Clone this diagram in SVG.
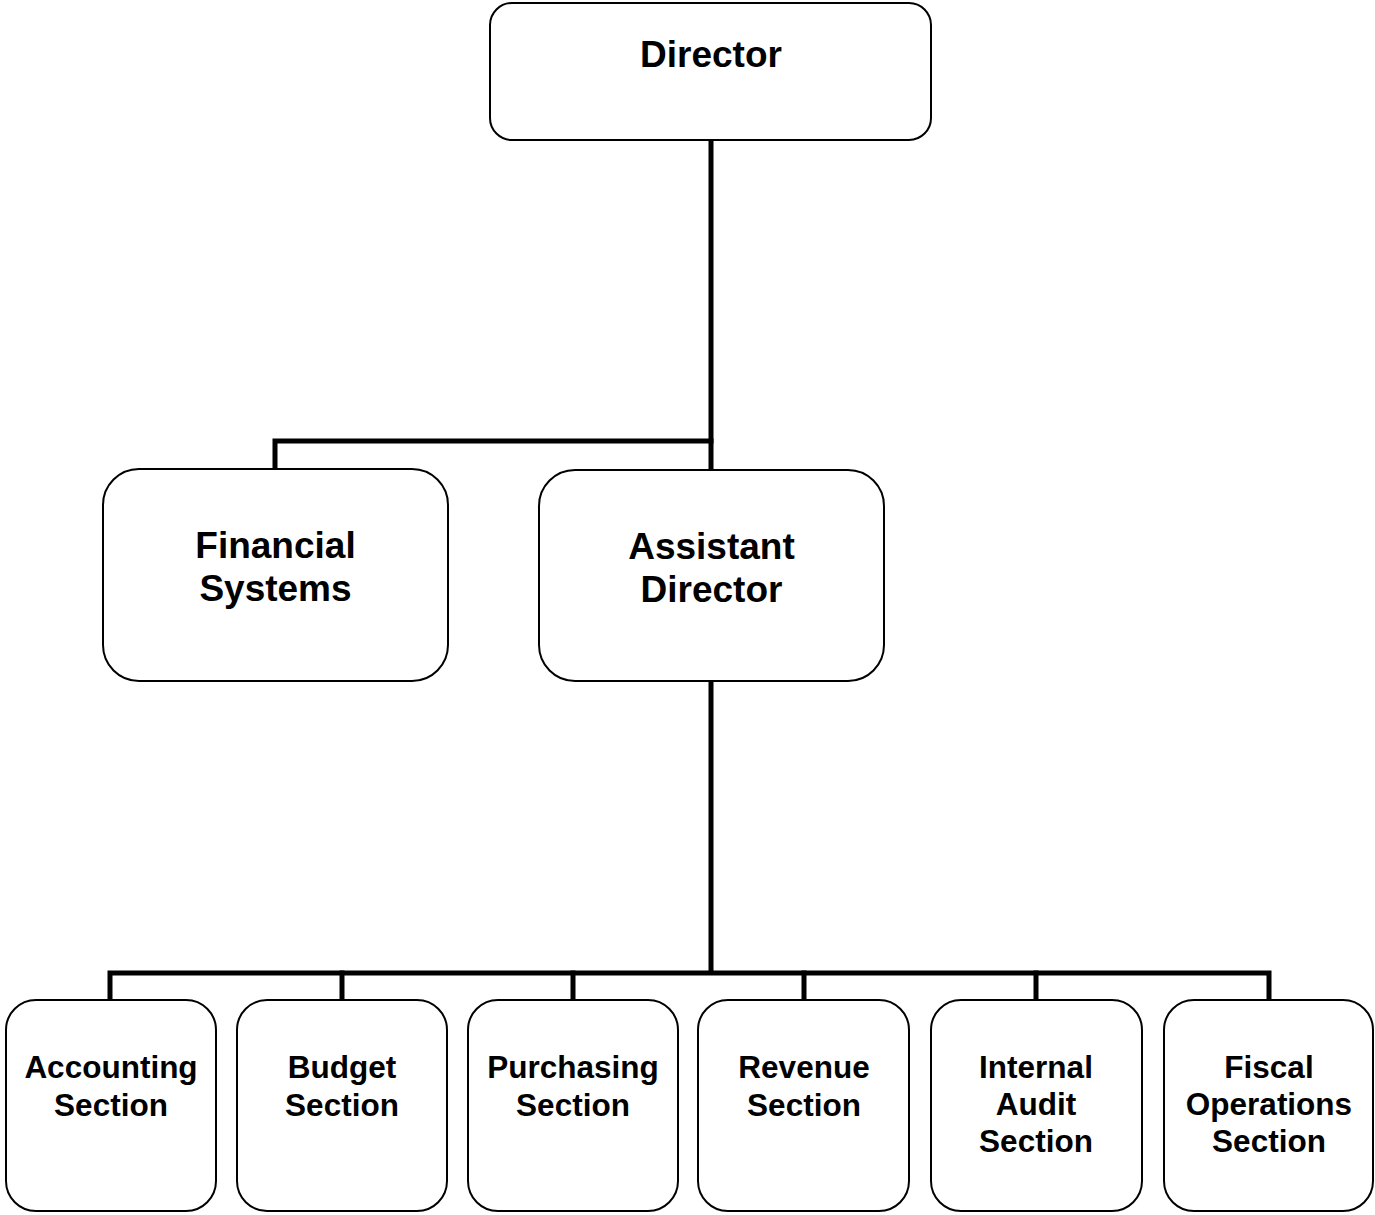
<svg xmlns="http://www.w3.org/2000/svg" width="1375" height="1215" viewBox="0 0 1375 1215">
<style>
.box{fill:#fff;stroke:#000;stroke-width:2}
.conn{fill:none;stroke:#000;stroke-width:5;stroke-linecap:square;stroke-linejoin:miter}
.t{font-family:"Liberation Sans",Arial,sans-serif;font-weight:bold;text-anchor:middle;fill:#000}
.big{font-size:37px}
.small{font-size:31.5px}
</style>
<rect width="1375" height="1215" fill="#fff"/>
<g id="connectors">
<path class="conn" d="M711 141 V970"/>
<path class="conn" d="M275 468 V441 H711"/>
<path class="conn" d="M110 998 V973 H1269 V998"/>
<path class="conn" d="M342 973 V998 M573 973 V998 M804 973 V998 M1036 973 V998"/>
</g>
<g id="director">
<rect class="box" x="490" y="3" width="441" height="137" rx="22"/>
<text class="t big" x="711" y="67">Director</text>
</g>
<g id="financial-systems">
<rect class="box" x="103" y="469" width="345" height="212" rx="36"/>
<text class="t big" x="275.5" y="558">Financial</text>
<text class="t big" x="275.5" y="601">Systems</text>
</g>
<g id="assistant-director">
<rect class="box" x="539" y="470" width="345" height="211" rx="36"/>
<text class="t big" x="711.5" y="559">Assistant</text>
<text class="t big" x="711.5" y="602">Director</text>
</g>
<g id="accounting">
<rect class="box" x="6" y="1000" width="210" height="211" rx="30"/>
<text class="t small" x="111" y="1078">Accounting</text>
<text class="t small" x="111" y="1116">Section</text>
</g>
<g id="budget">
<rect class="box" x="237" y="1000" width="210" height="211" rx="30"/>
<text class="t small" x="342" y="1078">Budget</text>
<text class="t small" x="342" y="1116">Section</text>
</g>
<g id="purchasing">
<rect class="box" x="468" y="1000" width="210" height="211" rx="30"/>
<text class="t small" x="573" y="1078">Purchasing</text>
<text class="t small" x="573" y="1116">Section</text>
</g>
<g id="revenue">
<rect class="box" x="698" y="1000" width="211" height="211" rx="30"/>
<text class="t small" x="804" y="1078">Revenue</text>
<text class="t small" x="804" y="1116">Section</text>
</g>
<g id="internal-audit">
<rect class="box" x="931" y="1000" width="211" height="211" rx="30"/>
<text class="t small" x="1036" y="1078">Internal</text>
<text class="t small" x="1036" y="1115">Audit</text>
<text class="t small" x="1036" y="1152">Section</text>
</g>
<g id="fiscal-operations">
<rect class="box" x="1164" y="1000" width="209" height="211" rx="30"/>
<text class="t small" x="1269" y="1078">Fiscal</text>
<text class="t small" x="1269" y="1115">Operations</text>
<text class="t small" x="1269" y="1152">Section</text>
</g>
</svg>
